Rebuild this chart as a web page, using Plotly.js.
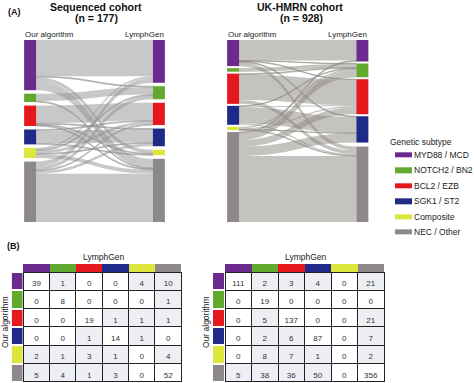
<!DOCTYPE html>
<html>
<head>
<meta charset="utf-8">
<script src="https://cdn.plot.ly/plotly-3.0.1.min.js"></script>
<style>html,body{margin:0;padding:0;background:#fff;}#chart{width:474px;height:383px;}</style>
</head>
<body>
<div id="chart"></div>
<script>
// ---------- data ----------
const subtypes = ['MYD88 / MCD', 'NOTCH2 / BN2', 'BCL2 / EZB', 'SGK1 / ST2', 'Composite', 'NEC / Other'];
const subtypeColors = ['#6a2a8e', '#62a92f', '#e5191d', '#202a88', '#dde63c', '#8e888b'];
// rows: Our algorithm, columns: LymphGen
const seqMatrix = [
  [39, 1, 0, 0, 4, 10],
  [0, 8, 0, 0, 0, 1],
  [0, 0, 19, 1, 1, 1],
  [0, 0, 1, 14, 1, 0],
  [2, 1, 3, 1, 0, 4],
  [5, 4, 1, 3, 0, 52]
];
const ukMatrix = [
  [111, 2, 3, 4, 0, 21],
  [0, 19, 0, 0, 0, 0],
  [0, 5, 137, 0, 0, 21],
  [0, 2, 6, 87, 0, 7],
  [0, 8, 7, 1, 0, 2],
  [5, 38, 36, 50, 0, 356]
];
const seqTitle = 'Sequenced cohort';
const ukTitle = 'UK-HMRN cohort';
const ourLabel = 'Our algorithm';
const lgLabel = 'LymphGen';
const legendTitle = 'Genetic subtype';

// ---------- layout helpers ----------
const W = 474, H = 383;
const fx = p => p / W;
const fy = p => 1 - p / H;
const FONT = 'Liberation Sans, Arial, sans-serif';

function stackCenters(vals, pad, hpx, ky) {
  const out = [];
  let y = 0;
  vals.forEach(v => {
    const h = v * ky;
    if (v > 0) out.push((y + h / 2) / hpx);
    y += h + pad;
  });
  return out;
}

function buildSankey(M, domX, domY, pad, linkColor) {
  const n = M.length;
  const rowSums = M.map(r => r.reduce((a, b) => a + b, 0));
  const colSums = M[0].map((_, j) => M.reduce((a, r) => a + r[j], 0));
  const total = rowSums.reduce((a, b) => a + b, 0);
  const hpx = (domY[1] - domY[0]);
  const maxCount = Math.max(rowSums.filter(v => v > 0).length, colSums.filter(v => v > 0).length);
  const ky = (hpx - (maxCount - 1) * pad) / total;
  const leftIdx = [], rightIdx = [];
  const labels = [], colors = [], xs = [], ys = [];
  const leftY = stackCenters(rowSums, pad, hpx, ky);
  const rightY = stackCenters(colSums, pad, hpx, ky);
  let li = 0, ri = 0;
  rowSums.forEach((v, i) => {
    if (v > 0) { leftIdx[i] = labels.length; labels.push(''); colors.push(subtypeColors[i]); xs.push(0.001); ys.push(leftY[li++]); }
  });
  colSums.forEach((v, j) => {
    if (v > 0) { rightIdx[j] = labels.length; labels.push(''); colors.push(subtypeColors[j]); xs.push(0.999); ys.push(rightY[ri++]); }
  });
  const src = [], tgt = [], val = [];
  for (let i = 0; i < n; i++) for (let j = 0; j < n; j++) {
    if (M[i][j] > 0) { src.push(leftIdx[i]); tgt.push(rightIdx[j]); val.push(M[i][j]); }
  }
  return {
    type: 'sankey',
    arrangement: 'fixed',
    hoverinfo: 'none',
    domain: { x: [fx(domX[0]), fx(domX[1])], y: [fy(domY[1]), fy(domY[0])] },
    node: { label: labels, color: colors, x: xs, y: ys, pad: pad, thickness: 12,
            line: { width: 0 }, hoverinfo: 'none' },
    link: { source: src, target: tgt, value: val, color: linkColor,
            line: { width: 0 }, hoverinfo: 'none' },
    textfont: { size: 1, color: 'rgba(0,0,0,0)' }
  };
}

function transpose(M) { return M[0].map((_, j) => M.map(r => r[j])); }

function buildTable(M, domX, yTop) {
  const fills = M[0].map((_, j) => M.map((r, i) => (i !== j && r[j] > 0) ? '#eeeef5' : '#ffffff'));
  return {
    type: 'table',
    domain: { x: [fx(domX[0]), fx(domX[1])], y: [0, fy(yTop)] },
    header: {
      values: subtypes.map(() => ''),
      height: 8,
      fill: { color: subtypeColors },
      line: { width: 0, color: subtypeColors }
    },
    cells: {
      values: transpose(M),
      height: 18.3,
      align: 'center',
      fill: { color: fills },
      line: { color: '#222', width: 1 },
      font: { family: FONT, size: 8, color: '#333' }
    },
    hoverinfo: 'none'
  };
}

function buildStrip(axX, axY, gap) {
  const scale = subtypeColors.map((c, i) => [i / (subtypeColors.length - 1), c]);
  return {
    type: 'heatmap',
    xaxis: axX, yaxis: axY,
    z: subtypes.map((_, i) => [i]),
    x: [0],
    y: subtypes.map((_, i) => i),
    zmin: 0, zmax: subtypes.length - 1,
    colorscale: scale, showscale: false, ygap: gap,
    hoverinfo: 'skip'
  };
}

const traces = [
  buildSankey(seqMatrix, [30, 159], [40, 222], 3.5, 'rgba(145,145,145,0.5)'),
  buildSankey(ukMatrix, [233, 362.5], [40, 222], 2, 'rgba(140,136,130,0.5)'),
  buildTable(seqMatrix, [23.3, 181.7], 264),
  buildTable(ukMatrix, [225, 384], 264),
  buildStrip('x', 'y', 2),
  buildStrip('x2', 'y2', 2),
  buildStrip('x3', 'y3', 10)   // legend swatches
];

const rowTop = 272, rowBot = 272 + 6 * 18.3;
const hidden = { visible: false, fixedrange: true };
const layout = {
  width: W, height: H,
  margin: { l: 0, r: 0, t: 0, b: 0 },
  paper_bgcolor: '#fff', plot_bgcolor: '#fff',
  font: { family: FONT, size: 8, color: '#222' },
  showlegend: false,
  xaxis: Object.assign({ domain: [fx(11.7), fx(22.7)], range: [-0.5, 0.5] }, hidden),
  yaxis: Object.assign({ domain: [fy(rowBot), fy(rowTop)], range: [5.5, -0.5] }, hidden),
  xaxis2: Object.assign({ domain: [fx(213), fx(224)], range: [-0.5, 0.5], anchor: 'y2' }, hidden),
  yaxis2: Object.assign({ domain: [fy(rowBot), fy(rowTop)], range: [5.5, -0.5], anchor: 'x2' }, hidden),
  xaxis3: Object.assign({ domain: [fx(395), fx(412)], range: [-0.5, 0.5], anchor: 'y3' }, hidden),
  yaxis3: {
    domain: [fy(155 + 5.5 * 15.4), fy(155 - 0.5 * 15.4)], range: [5.5, -0.5], anchor: 'x3',
    side: 'right', showgrid: false, zeroline: false, showline: false, ticks: '',
    tickvals: subtypes.map((_, i) => i), ticktext: subtypes, ticklabelstandoff: 1,
    tickfont: { family: FONT, size: 8.5, color: '#222' }, fixedrange: true
  },
  annotations: [
    { text: '<b>(A)</b>', x: fx(6), y: fy(12), xanchor: 'left', yanchor: 'middle', font: { size: 9, color: '#111' } },
    { text: '<b>' + seqTitle + '</b>', x: fx(96), y: fy(7), xanchor: 'center', yanchor: 'middle', font: { size: 10.5, color: '#111' } },
    { text: '<b>(n = ' + seqMatrix.flat().reduce((a, b) => a + b, 0) + ')</b>', x: fx(96), y: fy(18), xanchor: 'center', yanchor: 'middle', font: { size: 10.5, color: '#111' } },
    { text: '<b>' + ukTitle + '</b>', x: fx(300), y: fy(7), xanchor: 'center', yanchor: 'middle', font: { size: 10.5, color: '#111' } },
    { text: '<b>(n = ' + ukMatrix.flat().reduce((a, b) => a + b, 0) + ')</b>', x: fx(301), y: fy(18), xanchor: 'center', yanchor: 'middle', font: { size: 10.5, color: '#111' } },
    { text: ourLabel, x: fx(23), y: fy(34), xanchor: 'left', yanchor: 'middle' },
    { text: lgLabel, x: fx(166), y: fy(34), xanchor: 'right', yanchor: 'middle' },
    { text: ourLabel, x: fx(226), y: fy(34), xanchor: 'left', yanchor: 'middle' },
    { text: lgLabel, x: fx(369), y: fy(34), xanchor: 'right', yanchor: 'middle' },
    { text: legendTitle, x: fx(388), y: fy(142), xanchor: 'left', yanchor: 'middle', font: { size: 8.5 } },
    { text: '<b>(B)</b>', x: fx(5), y: fy(246), xanchor: 'left', yanchor: 'middle', font: { size: 9, color: '#111' } },
    { text: lgLabel, x: fx(104), y: fy(257), xanchor: 'center', yanchor: 'middle', font: { size: 8.5 } },
    { text: lgLabel, x: fx(306), y: fy(257), xanchor: 'center', yanchor: 'middle', font: { size: 8.5 } },
    { text: ourLabel, x: fx(5), y: fy(322), xanchor: 'center', yanchor: 'middle', textangle: -90, font: { size: 8.5 } },
    { text: ourLabel, x: fx(206), y: fy(322), xanchor: 'center', yanchor: 'middle', textangle: -90, font: { size: 8.5 } }
  ].map(a => Object.assign({ xref: 'paper', yref: 'paper', showarrow: false }, a,
      { font: Object.assign({ family: FONT, size: 8, color: '#222' }, a.font || {}) }))
};

Plotly.newPlot('chart', traces, layout, { staticPlot: true, displayModeBar: false });
</script>
</body>
</html>
